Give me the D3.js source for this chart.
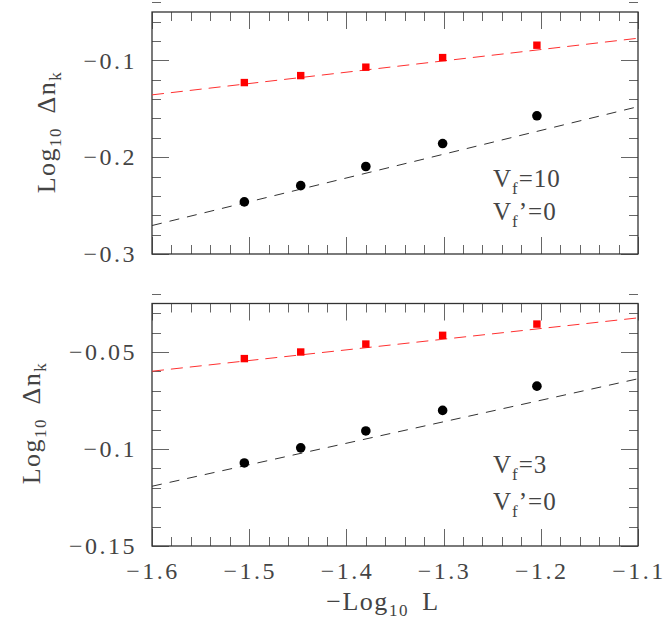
<!DOCTYPE html>
<html><head><meta charset="utf-8">
<script src="https://cdn.jsdelivr.net/npm/d3@7"></script>
<style>
html,body{margin:0;padding:0;background:#fff;}
svg text{font-family:"Liberation Serif","Times New Roman",serif;fill:#444;}
</style></head>
<body><svg id="c" width="671" height="625"></svg>
<script>
// ---- data ----
const xVals = [-1.505, -1.447, -1.380, -1.301, -1.204];   // -log10 L  (L = 32,28,24,20,16)
const xTicks = [-1.6, -1.5, -1.4, -1.3, -1.2, -1.1];
const xTickLabels = ["\u22121.6", "\u22121.5", "\u22121.4", "\u22121.3", "\u22121.2", "\u22121.1"];
const fitX = [-1.6, -1.1];

// top panel (Vf = 10)
const topRed = [-0.1229, -0.1157, -0.1070, -0.0971, -0.0843];
const topBlack = [-0.2462, -0.2294, -0.2096, -0.1859, -0.1572];
const topRedFit = [-0.1356, -0.0771];
const topBlackFit = [-0.2706, -0.1478];
const topYTicks = [-0.3, -0.2, -0.1];
const topYLabels = ["\u22120.3", "\u22120.2", "\u22120.1"];

// bottom panel (Vf = 3)
const botRed = [-0.0534, -0.0500, -0.0459, -0.0414, -0.0356];
const botBlack = [-0.1072, -0.0994, -0.0907, -0.0801, -0.0676];
const botRedFit = [-0.0599, -0.0324];
const botBlackFit = [-0.1192, -0.0638];
const botYTicks = [-0.15, -0.1, -0.05];
const botYLabels = ["\u22120.15", "\u22120.1", "\u22120.05"];

const svg = d3.select("#c");
const L = 152, R = 638;
const x = d3.scaleLinear().domain([-1.6, -1.1]).range([L, R]);
const xMinor = d3.range(0, 26).map(i => -1.6 + i * 0.02);

function panel(cfg) {
  const y = d3.scaleLinear().domain(cfg.domain).range([cfg.bottom, cfg.top]);
  const g = svg.append("g");
  const clipId = "clip" + cfg.id;
  svg.append("clipPath").attr("id", clipId).append("rect")
    .attr("x", L).attr("y", cfg.top).attr("width", R - L).attr("height", cfg.bottom - cfg.top);

  // ticks
  const tk = g.append("g").attr("stroke", "#666").attr("stroke-width", 1);
  xMinor.forEach((v, i) => {
    const len = (i % 5 === 0) ? 17 : 9;
    const px = Math.round(x(v)) + 0.5;
    tk.append("line").attr("x1", px).attr("x2", px).attr("y1", cfg.bottom).attr("y2", cfg.bottom - len);
    tk.append("line").attr("x1", px).attr("x2", px).attr("y1", cfg.top).attr("y2", cfg.top + len);
  });
  const n = Math.round((cfg.domain[1] - cfg.domain[0]) / cfg.minor);
  for (let i = 0; i <= n; i++) {
    const v = cfg.domain[0] + i * cfg.minor;
    const major = cfg.majors.some(m => Math.abs(m - v) < 1e-9);
    const len = major ? 17 : 9;
    const py = Math.round(y(v)) + 0.5;
    tk.append("line").attr("x1", L).attr("x2", L + len).attr("y1", py).attr("y2", py);
    tk.append("line").attr("x1", R).attr("x2", R - len).attr("y1", py).attr("y2", py);
  }

  // frame
  g.append("rect").attr("x", L).attr("y", cfg.top).attr("width", R - L).attr("height", cfg.bottom - cfg.top)
    .attr("fill", "none").attr("stroke", "#333").attr("stroke-width", 1.3);

  // y labels
  cfg.majors.forEach((v, i) => {
    g.append("text").attr("x", 137).attr("y", y(v)).attr("dy", "0.34em")
      .attr("text-anchor", "end").attr("font-size", 24).attr("letter-spacing", "2.5px")
      .text(cfg.labels[i]);
  });

  // fit lines
  const line = d3.line().x(d => x(d[0])).y(d => y(d[1]));
  const lg = g.append("g").attr("clip-path", `url(#${clipId})`);
  lg.append("path").datum(fitX.map((v, i) => [v, cfg.redFit[i]])).attr("d", line)
    .attr("fill", "none").attr("stroke", "#ff3030").attr("stroke-width", 1).attr("stroke-dasharray", "12,7");
  lg.append("path").datum(fitX.map((v, i) => [v, cfg.blackFit[i]])).attr("d", line)
    .attr("fill", "none").attr("stroke", "#333").attr("stroke-width", 1).attr("stroke-dasharray", "10,8");

  // points
  g.selectAll(null).data(xVals.map((v, i) => [v, cfg.red[i]])).enter().append("rect")
    .attr("x", d => x(d[0]) - 3.7).attr("y", d => y(d[1]) - 3.7).attr("width", 7.4).attr("height", 7.4)
    .attr("fill", "red");
  g.selectAll(null).data(xVals.map((v, i) => [v, cfg.black[i]])).enter().append("circle")
    .attr("cx", d => x(d[0])).attr("cy", d => y(d[1])).attr("r", 4.8).attr("fill", "#000");

  // y title
  const t = g.append("text").attr("transform", `translate(${cfg.titleX},${cfg.titleY}) rotate(-90)`)
    .attr("text-anchor", "middle").attr("font-size", 26).attr("letter-spacing", "1.5px");
  t.append("tspan").text("Log");
  t.append("tspan").attr("font-size", 17).attr("dy", 6).text("10");
  t.append("tspan").attr("dy", -6).text("\u2009\u2009\u0394n");
  t.append("tspan").attr("font-size", 17).attr("dy", 6).text("k");

  // annotation
  const a1 = g.append("text").attr("x", 493).attr("y", cfg.ann1).attr("font-size", 25).attr("letter-spacing", "1px");
  a1.append("tspan").text("V");
  a1.append("tspan").attr("font-size", 17).attr("dy", 7).text("f");
  a1.append("tspan").attr("dy", -7).text("=" + cfg.vf);
  const a2 = g.append("text").attr("x", 493).attr("y", cfg.ann2).attr("font-size", 25).attr("letter-spacing", "1px");
  a2.append("tspan").text("V");
  a2.append("tspan").attr("font-size", 17).attr("dy", 7).text("f");
  a2.append("tspan").attr("dy", -7).text("\u2019=0");
  return y;
}

panel({id: 1, top: 12, bottom: 254, domain: [-0.3, -0.05], minor: 0.02, majors: topYTicks, labels: topYLabels,
  red: topRed, black: topBlack, redFit: topRedFit, blackFit: topBlackFit, titleX: 55, titleY: 132,
  ann1: 187, ann2: 220, vf: "10"});
panel({id: 2, top: 303.5, bottom: 546, domain: [-0.15, -0.025], minor: 0.01, majors: botYTicks, labels: botYLabels,
  red: botRed, black: botBlack, redFit: botRedFit, blackFit: botBlackFit, titleX: 40, titleY: 423,
  ann1: 473, ann2: 510, vf: "3"});

// x tick labels (bottom panel)
xTicks.forEach((v, i) => {
  svg.append("text").attr("x", x(v) + 1).attr("y", 579).attr("text-anchor", "middle")
    .attr("font-size", 24).attr("letter-spacing", "2.5px").text(xTickLabels[i]);
});
// x title
const xt = svg.append("text").attr("x", 383).attr("y", 610).attr("text-anchor", "middle")
  .attr("font-size", 26).attr("letter-spacing", "1.5px");
xt.append("tspan").text("\u2212Log");
xt.append("tspan").attr("font-size", 17).attr("dy", 6).text("10");
xt.append("tspan").attr("dy", -6).text("\u2009\u2009L");
</script></body></html>
